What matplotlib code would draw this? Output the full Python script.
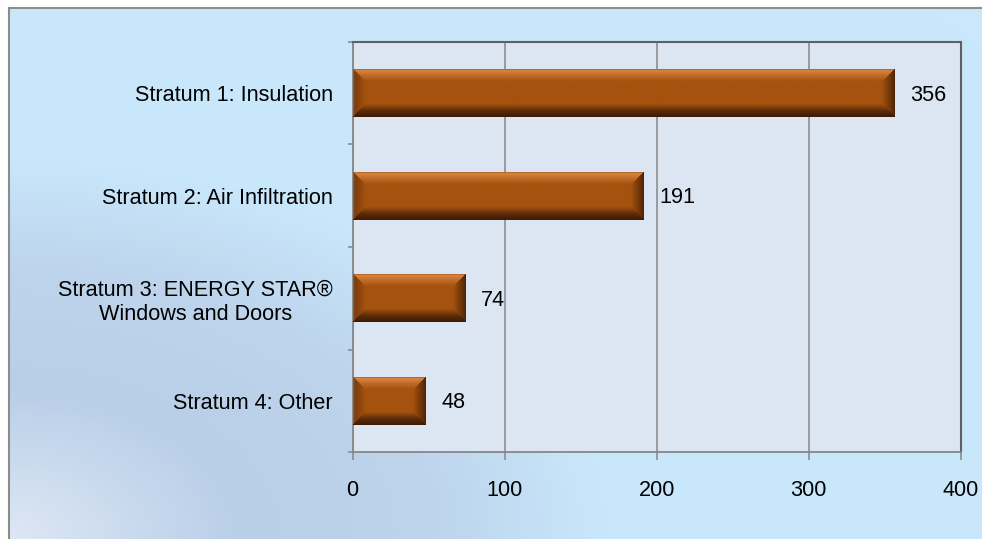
import numpy as np
import matplotlib
matplotlib.use("Agg")
import matplotlib.pyplot as plt
from matplotlib.colors import to_rgb
from matplotlib.ticker import FixedLocator


categories = [
    "Stratum 1: Insulation",
    "Stratum 2: Air Infiltration",
    "Stratum 3: ENERGY STAR®\nWindows and Doors",
    "Stratum 4: Other",
]
counts = [356, 191, 74, 48]
x_ticks = [0, 100, 200, 300, 400]

W_PX, H_PX, DPI = 982, 539, 100
BAR_MAIN = "#a5520f"
GRID = "#868686"

plt.rcParams["font.family"] = ["Liberation Sans", "DejaVu Sans"]
plt.rcParams["font.size"] = 15.6


def ramp(t, stops):
    """Interpolate RGB colours along t using (position, colour) stops."""
    pos = [p for p, _ in stops]
    cols = np.array([to_rgb(c) for _, c in stops])
    return np.stack([np.interp(t, pos, cols[:, k]) for k in range(3)], axis=-1)


def chart_background(w, h, x0, y0, full_h):
    # pale corner at lower left, a greyish-blue ring, then sky blue
    yy, xx = np.mgrid[0:h, 0:w].astype(float)
    xx += x0
    yy += y0
    r = np.hypot(xx / 1.6, full_h - yy)
    return ramp(r, [(0, "#dfe8f5"), (150, "#b9cfe8"), (270, "#bdd4ec"),
                    (380, "#c9e7fb"), (2000, "#cdeafd")])


def bevel_image(w, h, bev=13.0):
    yy, xx = np.mgrid[0:h, 0:w].astype(float) + 0.5
    dists = np.stack([yy, h - yy, xx, w - xx])
    side = np.argmin(dists, axis=0)
    t = np.clip(np.min(dists, axis=0) / bev, 0, 1)
    facets = [
        ramp(t, [(0, "#8f4a14"), (0.2, "#d8843f"), (0.55, "#c06a27"), (1, BAR_MAIN)]),
        ramp(t, [(0, "#3c1a04"), (0.45, "#5a2a08"), (1, BAR_MAIN)]),
        ramp(t, [(0, "#9c6234"), (0.15, "#7c3c0e"), (1, BAR_MAIN)]),
        ramp(t, [(0, "#4a2206"), (0.3, "#6a3209"), (1, BAR_MAIN)]),
    ]
    img = np.zeros((h, w, 3))
    for k, f in enumerate(facets):
        img[side == k] = f[side == k]
    return img


fig = plt.figure(figsize=(W_PX / DPI, H_PX / DPI), dpi=DPI)
fig.patch.set_facecolor("white")

# outer chart frame with gradient fill
fx, fy = 9, 8
bg = fig.add_axes([fx / W_PX, 0, 1 - fx / W_PX, 1 - fy / H_PX], zorder=0)
bg.imshow(chart_background(W_PX - fx, H_PX - fy, fx, fy, H_PX), aspect="auto",
          extent=(0, 1, 0, 1), origin="upper")
bg.set_xlim(0, 1)
bg.set_ylim(0, 1)
bg.set_xticks([])
bg.set_yticks([])
for s in ("right", "bottom"):
    bg.spines[s].set_visible(False)
for s in ("left", "top"):
    bg.spines[s].set_color("#8c8c8c")
    bg.spines[s].set_linewidth(1.5)

left, right, top, bottom = 352.5, 960.7, 42, 452
ax = fig.add_axes([left / W_PX, 1 - bottom / H_PX, (right - left) / W_PX, (bottom - top) / H_PX],
                  zorder=1)
ax.set_facecolor("#dce6f2")

y = np.arange(len(categories))
bar_h = 0.47
bars = ax.barh(y, counts, height=bar_h, color=BAR_MAIN, zorder=3)

ax.set_xlim(0, 400)
ax.set_ylim(len(categories) - 0.5, -0.5)
fig.canvas.draw()

# bevelled shading for each bar, clipped to the bar rectangle
for rect, val, yc in zip(bars, counts, y):
    p0 = ax.transData.transform((0, yc - bar_h / 2))
    p1 = ax.transData.transform((val, yc + bar_h / 2))
    w = max(int(round(abs(p1[0] - p0[0]))), 2)
    h = max(int(round(abs(p1[1] - p0[1]))), 2)
    im = ax.imshow(bevel_image(w, h), extent=(0, val, yc + bar_h / 2, yc - bar_h / 2),
                   origin="upper", aspect="auto", zorder=4, interpolation="bilinear")
    im.set_clip_path(rect)

ax.set_xlim(0, 400)
ax.set_ylim(len(categories) - 0.5, -0.5)

for val, yc in zip(counts, y):
    ax.annotate(str(val), xy=(val, yc), xytext=(11.5, -1.5), textcoords="offset points",
                va="center", ha="left", color="black", zorder=5)

ax.set_xticks(x_ticks)
ax.set_yticks(y)
ax.set_yticklabels(categories, multialignment="center")
ax.yaxis.set_minor_locator(FixedLocator(np.arange(-0.5, len(categories), 1.0)))
ax.tick_params(axis="y", which="major", length=0, pad=14)
ax.tick_params(axis="y", which="minor", length=3.6, width=1.1, color=GRID)
ax.tick_params(axis="x", length=5.8, width=1.1, color=GRID, pad=14)

ax.xaxis.grid(True, color=GRID, linewidth=1.1, zorder=1)
ax.set_axisbelow(True)

for s in ("left", "bottom"):
    ax.spines[s].set_color(GRID)
    ax.spines[s].set_linewidth(1.3)
for s in ("right", "top"):
    ax.spines[s].set_color("#606060")
    ax.spines[s].set_linewidth(1.5)

fig.savefig("out.png", dpi=DPI)
